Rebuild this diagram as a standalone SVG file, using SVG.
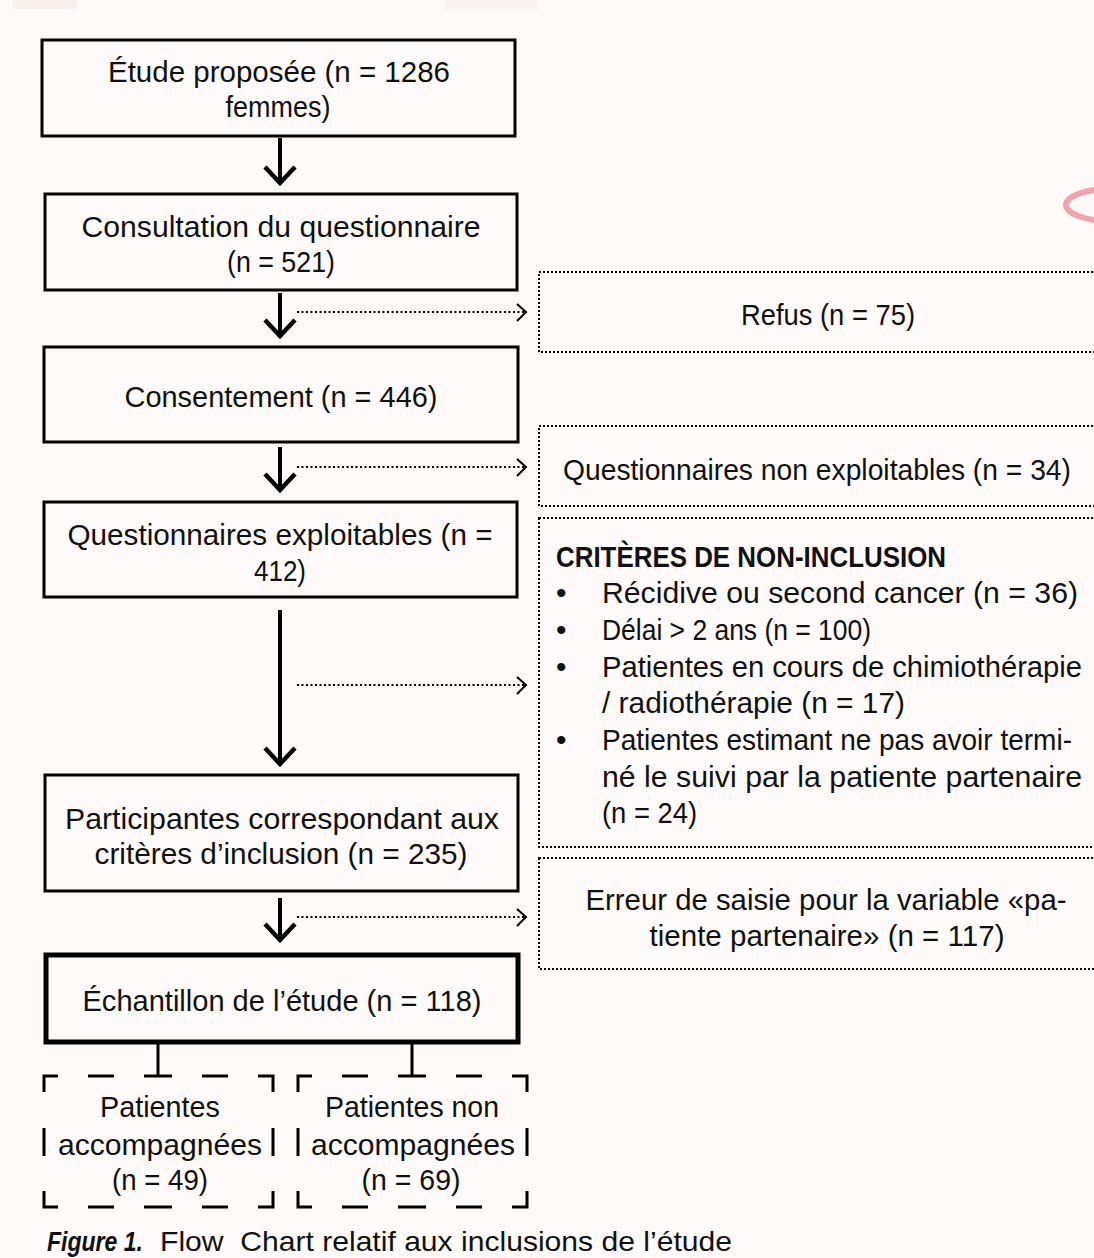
<svg xmlns="http://www.w3.org/2000/svg" width="1094" height="1258" viewBox="0 0 1094 1258">
<style>
.bg{fill:#fefafa}
.box{fill:none;stroke:#000;stroke-width:3}
.thick{fill:none;stroke:#000;stroke-width:5}
.dot{fill:none;stroke:#000;stroke-width:2;stroke-dasharray:2 2}
.dash{fill:none;stroke:#000;stroke-width:3}
.arr{fill:none;stroke:#000;stroke-width:4}
.head{fill:none;stroke:#000;stroke-width:4.5;stroke-linejoin:miter}
.darr{fill:none;stroke:#000;stroke-width:2;stroke-dasharray:2 2.5}
.dhead{fill:none;stroke:#000;stroke-width:2}
text{font-family:"Liberation Sans",Arial,sans-serif;font-size:30px;fill:#111}
.c{text-anchor:middle}
.h{font-weight:bold}
.cap{font-size:28px}
</style>
<rect class="bg" x="0" y="0" width="1094" height="1258"/>
<rect x="13" y="0" width="64" height="9" fill="#f8f0ec"/>
<rect x="445" y="0" width="93" height="9" fill="#f9f3f1"/>
<ellipse cx="1118" cy="205" rx="52" ry="17" fill="none" stroke="#f2a3ad" stroke-width="6"/>

<g id="connectors">
<line class="arr" x1="280" y1="138" x2="280" y2="184"/>
<polyline class="head" points="265,167 280,183 295,167"/>
<line class="arr" x1="280" y1="293" x2="280" y2="337"/>
<polyline class="head" points="265,320 280,336 295,320"/>
<line class="arr" x1="280" y1="447" x2="280" y2="491"/>
<polyline class="head" points="265,474 280,490 295,474"/>
<line class="arr" x1="280" y1="610" x2="280" y2="765"/>
<polyline class="head" points="265,748 280,764 295,748"/>
<line class="arr" x1="280" y1="898" x2="280" y2="941"/>
<polyline class="head" points="265,924 280,940 295,924"/>
<line class="darr" x1="297" y1="312" x2="525" y2="312"/>
<polyline class="dhead" points="517,304 526,312 517,321"/>
<line class="darr" x1="297" y1="467" x2="525" y2="467"/>
<polyline class="dhead" points="517,459 526,467 517,476"/>
<line class="darr" x1="297" y1="685" x2="525" y2="685"/>
<polyline class="dhead" points="517,677 526,685 517,694"/>
<line class="darr" x1="297" y1="917" x2="525" y2="917"/>
<polyline class="dhead" points="517,909 526,917 517,926"/>
<line class="dash" x1="158" y1="1044" x2="158" y2="1076"/>
<line class="dash" x1="412" y1="1044" x2="412" y2="1076"/>
</g>

<g id="n1">
<rect class="box" x="42" y="40" width="473" height="96"/>
<text class="c" x="279" y="82" textLength="342" lengthAdjust="spacingAndGlyphs">Étude proposée (n = 1286</text>
<text class="c" x="278" y="117" textLength="105" lengthAdjust="spacingAndGlyphs">femmes)</text>
</g>
<g id="n2">
<rect class="box" x="45" y="194" width="472" height="96"/>
<text class="c" x="281" y="237" textLength="399" lengthAdjust="spacingAndGlyphs">Consultation du questionnaire</text>
<text class="c" x="281" y="272" textLength="108" lengthAdjust="spacingAndGlyphs">(n = 521)</text>
</g>
<g id="n3">
<rect class="box" x="44" y="347" width="474" height="95"/>
<text class="c" x="281" y="407" textLength="313" lengthAdjust="spacingAndGlyphs">Consentement (n = 446)</text>
</g>
<g id="n4">
<rect class="box" x="44" y="502" width="473" height="95"/>
<text class="c" x="280" y="545" textLength="425" lengthAdjust="spacingAndGlyphs">Questionnaires exploitables (n =</text>
<text class="c" x="280" y="581" textLength="52" lengthAdjust="spacingAndGlyphs">412)</text>
</g>
<g id="n5">
<rect class="box" x="45" y="775" width="473" height="116"/>
<text class="c" x="282" y="829" textLength="434" lengthAdjust="spacingAndGlyphs">Participantes correspondant aux</text>
<text class="c" x="281" y="864" textLength="373" lengthAdjust="spacingAndGlyphs">critères d’inclusion (n = 235)</text>
</g>
<g id="n6">
<rect class="thick" x="46" y="955" width="472" height="87"/>
<text class="c" x="282" y="1011" textLength="399" lengthAdjust="spacingAndGlyphs">Échantillon de l’étude (n = 118)</text>
</g>

<g id="refus">
<rect class="dot" x="539" y="272" width="600" height="80"/>
<text class="c" x="828" y="325" textLength="174" lengthAdjust="spacingAndGlyphs">Refus (n = 75)</text>
</g>
<g id="nonexpl">
<rect class="dot" x="539" y="426" width="600" height="80"/>
<text x="563" y="480" font-size="27.5" textLength="508" lengthAdjust="spacingAndGlyphs">Questionnaires non exploitables (n = 34)</text>
</g>
<g id="criteres">
<rect class="dot" x="539" y="518" width="600" height="329"/>
<text class="h" x="556" y="567" textLength="390" lengthAdjust="spacingAndGlyphs">CRITÈRES DE NON-INCLUSION</text>
<text x="556" y="603" font-size="22">•</text>
<text x="602" y="603" textLength="476" lengthAdjust="spacingAndGlyphs">Récidive ou second cancer (n = 36)</text>
<text x="556" y="640" font-size="22">•</text>
<text x="602" y="640" textLength="269" lengthAdjust="spacingAndGlyphs">Délai &gt; 2 ans (n = 100)</text>
<text x="556" y="677" font-size="22">•</text>
<text x="602" y="677" font-size="29" textLength="480" lengthAdjust="spacingAndGlyphs">Patientes en cours de chimiothérapie</text>
<text x="602" y="713" textLength="303" lengthAdjust="spacingAndGlyphs">/ radiothérapie (n = 17)</text>
<text x="556" y="750" font-size="22">•</text>
<text x="602" y="750" font-size="27" textLength="470" lengthAdjust="spacingAndGlyphs">Patientes estimant ne pas avoir termi-</text>
<text x="602" y="787" font-size="29" textLength="480" lengthAdjust="spacingAndGlyphs">né le suivi par la patiente partenaire</text>
<text x="602" y="823" textLength="95" lengthAdjust="spacingAndGlyphs">(n = 24)</text>
</g>
<g id="erreur">
<rect class="dot" x="539" y="858" width="600" height="111"/>
<text class="c" x="826" y="910" textLength="481" lengthAdjust="spacingAndGlyphs">Erreur de saisie pour la variable «pa-</text>
<text class="c" x="827" y="946" textLength="355" lengthAdjust="spacingAndGlyphs">tiente partenaire» (n = 117)</text>
</g>

<g id="accomp">
<path class="dash" d="M44,1092 V1076 H58 M88,1076 H114 M144,1076 H172 M202,1076 H228 M258,1076 H273 V1092 M44,1128 V1156 M273,1128 V1156 M44,1191 V1207 H58 M88,1207 H114 M144,1207 H172 M202,1207 H228 M258,1207 H273 V1191"/>
<text class="c" x="160" y="1117" textLength="120" lengthAdjust="spacingAndGlyphs">Patientes</text>
<text class="c" x="160" y="1155" textLength="204" lengthAdjust="spacingAndGlyphs">accompagnées</text>
<text class="c" x="160" y="1190" textLength="96" lengthAdjust="spacingAndGlyphs">(n = 49)</text>
</g>
<g id="nonaccomp">
<path class="dash" d="M298,1092 V1076 H312 M342,1076 H368 M398,1076 H426 M456,1076 H482 M512,1076 H527 V1092 M298,1128 V1156 M527,1128 V1156 M298,1191 V1207 H312 M342,1207 H368 M398,1207 H426 M456,1207 H482 M512,1207 H527 V1191"/>
<text class="c" x="412" y="1117" textLength="174" lengthAdjust="spacingAndGlyphs">Patientes non</text>
<text class="c" x="413" y="1155" textLength="204" lengthAdjust="spacingAndGlyphs">accompagnées</text>
<text class="c" x="411" y="1190" textLength="99" lengthAdjust="spacingAndGlyphs">(n = 69)</text>
</g>

<g id="caption">
<text class="cap" x="47" y="1251" font-weight="bold" font-style="italic" textLength="96" lengthAdjust="spacingAndGlyphs">Figure 1.</text>
<text class="cap" x="160" y="1251" xml:space="preserve" textLength="572" lengthAdjust="spacingAndGlyphs">Flow  Chart relatif aux inclusions de l’étude</text>
</g>
</svg>
